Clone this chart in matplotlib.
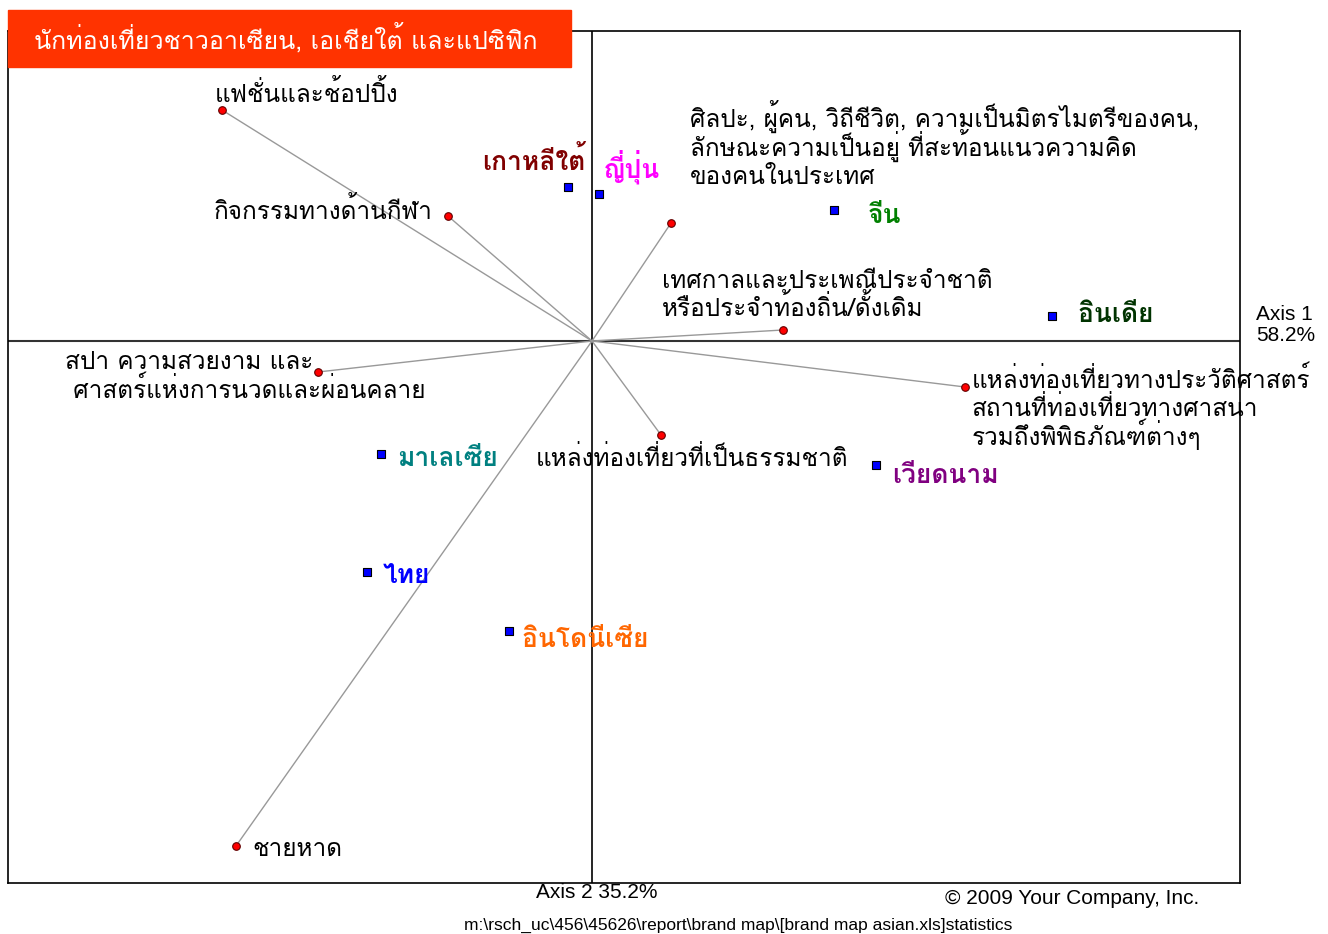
import matplotlib
matplotlib.use('Agg')
import matplotlib.pyplot as plt
from matplotlib.patches import Rectangle

plt.rcParams['font.family'] = ['Loma', 'DejaVu Sans']

# attributes (red points)
attr_names = ['แฟชั่นและช้อปปิ้ง', 'กิจกรรมทางด้านกีฬา',
              'ศิลปะ, ผู้คน, วิถีชีวิต, ความเป็นมิตรไมตรีของคน,\nลักษณะความเป็นอยู่ ที่สะท้อนแนวความคิด\nของคนในประเทศ',
              'เทศกาลและประเพณีประจำชาติ\nหรือประจำท้องถิ่น/ดั้งเดิม',
              'สปา ความสวยงาม และ\n ศาสตร์แห่งการนวดและผ่อนคลาย',
              'แหล่งท่องเที่ยวทางประวัติศาสตร์\nสถานที่ท่องเที่ยวทางศาสนา\nรวมถึงพิพิธภัณฑ์ต่างๆ',
              'แหล่งท่องเที่ยวที่เป็นธรรมชาติ', 'ชายหาด']
attr_x = [-3.70, -1.44, 0.79, 1.91, -2.74, 3.73, 0.69, -3.56]
attr_y = [2.31, 1.25, 1.18, 0.11, -0.31, -0.46, -0.94, -5.05]

# countries (blue squares)
ctry_names = ['เกาหลีใต้', 'ญี่ปุ่น', 'จีน', 'อินเดีย', 'มาเลเซีย', 'ไทย', 'อินโดนีเซีย', 'เวียดนาม']
ctry_x = [-0.24, 0.07, 2.42, 4.60, -2.11, -2.25, -0.83, 2.84]
ctry_y = [1.54, 1.47, 1.31, 0.25, -1.13, -2.31, -2.90, -1.24]
ctry_colors = ['#800000', '#ff00ff', '#008000', '#003300', '#008080', '#0000ff', '#ff6600', '#800080']

fig = plt.figure(figsize=(13.28, 9.34), dpi=100)
ax = fig.add_axes([8/1328, 51/934, 1232/1328, 852/934])
ax.set_xlim(-5.84, 6.48)
ax.set_ylim(-5.42, 3.10)
ax.set_xticks([])
ax.set_yticks([])
for s in ax.spines.values():
    s.set_linewidth(1.2)

ax.axhline(0, color='#333333', lw=1.5, zorder=1)
ax.axvline(0, color='black', lw=1.2, zorder=1)

for x, y in zip(attr_x, attr_y):
    ax.plot([0, x], [0, y], color='#999999', lw=1, zorder=2)
ax.scatter(attr_x, attr_y, s=30, color='red', edgecolor='#600000', lw=0.8, zorder=4)
ax.scatter(ctry_x, ctry_y, s=28, marker='s', color='#0000ff', edgecolor='black', lw=0.8, zorder=4)


def put(x, y, text, dx, dy, ha='left', step=28.5, base=7, **kw):
    # one annotate per line so that Thai marks don't change the spacing
    for i, line in enumerate(text.split('\n')):
        ax.annotate(line, (x, y), xytext=(dx, dy - base - i * step), textcoords='offset pixels',
                    ha=ha, va='baseline', zorder=5, **kw)


# label offsets in pixels (centre of first line)
attr_off = [(-7, 15), (-16, 4), (19, 103), (-121, 49), (-253, 10), (7, 6), (-125, -24), (16, -3)]
attr_ha = ['left', 'right', 'left', 'left', 'left', 'left', 'left', 'left']
for name, x, y, off, ha in zip(attr_names, attr_x, attr_y, attr_off, attr_ha):
    put(x, y, name, off[0], off[1], ha=ha, fontsize=17.5)

ctry_off = [(17, 25), (4, 24), (34, -5), (26, 2), (16, -4), (16, -3), (13, -8), (16, -10)]
ctry_ha = ['right', 'left', 'left', 'left', 'left', 'left', 'left', 'left']
for name, x, y, off, ha, c in zip(ctry_names, ctry_x, ctry_y, ctry_off, ctry_ha, ctry_colors):
    put(x, y, name, off[0], off[1], ha=ha, base=8, fontsize=19, fontweight='bold', color=c)

# title banner
fig.patches.append(Rectangle((8/1328, 1 - 67/934), 563/1328, 57/934, transform=fig.transFigure,
                             color='#ff3300', zorder=10))
fig.text(286/1328, 1 - 38/934, 'นักท่องเที่ยวชาวอาเซียน, เอเชียใต้ และแปซิฟิก', color='white',
         ha='center', va='center', fontsize=18, zorder=11)

fig.text(1256/1328, 1 - 325/934, 'Axis 1\n58.2%', fontsize=15, family='Liberation Sans',
         ha='left', va='center', linespacing=1.1)
fig.text(597/1328, 1 - 893/934, 'Axis 2 35.2%', fontsize=15, family='Liberation Sans',
         ha='center', va='center')
fig.text(1072/1328, 1 - 898/934, '© 2009 Your Company, Inc.', fontsize=15, family='Liberation Sans',
         ha='center', va='center')
fig.text(738/1328, 1 - 925/934, 'm:\\rsch_uc\\456\\45626\\report\\brand map\\[brand map asian.xls]statistics',
         fontsize=12.5, family='Liberation Sans', ha='center', va='center')

fig.savefig('out.png', dpi=100)
